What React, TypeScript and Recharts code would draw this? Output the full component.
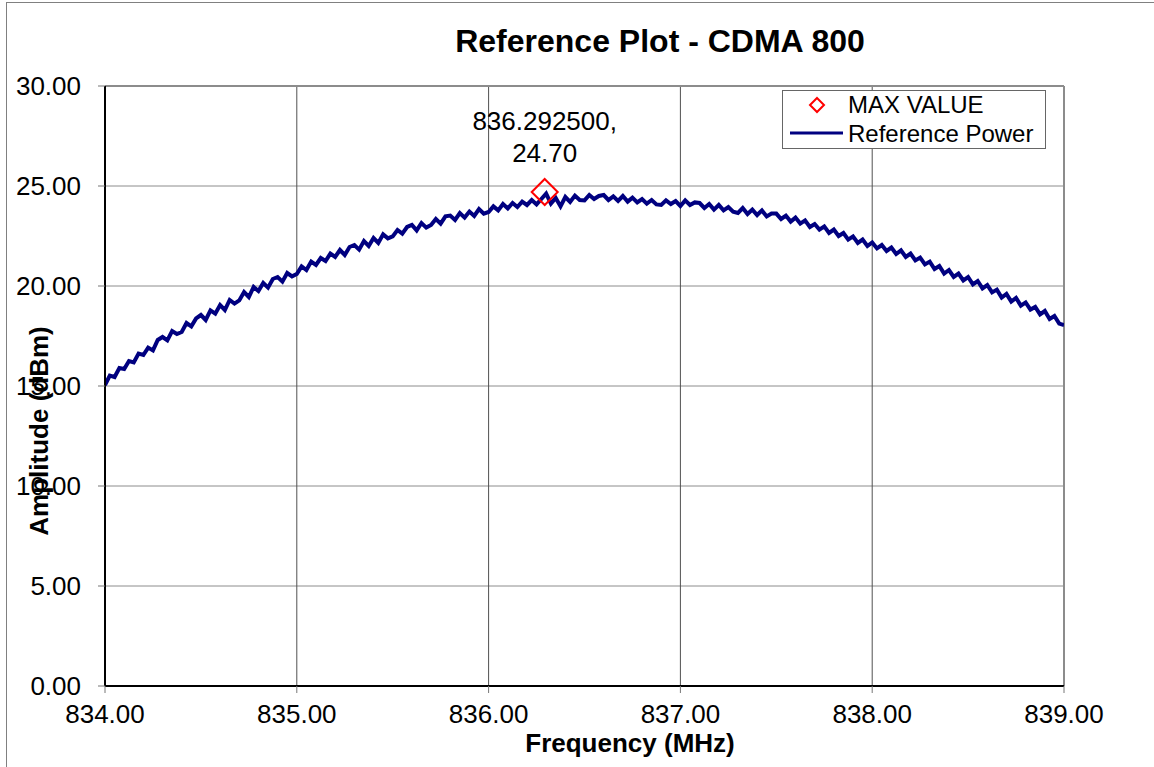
import {
  ComposedChart,
  Line,
  Scatter,
  XAxis,
  YAxis,
  CartesianGrid,
  ReferenceLine,
} from 'recharts'

// sweep: 834.000 MHz upward in 0.025 MHz steps
const START_FREQ = 834
const STEP = 0.025

// reference power (dBm)
const POWER = [
  15.05, 15.52, 15.45, 15.9,
  15.85, 16.25, 16.18, 16.62,
  16.55, 16.92, 16.78, 17.3,
  17.45, 17.28, 17.75, 17.6,
  17.7, 18.15, 17.98, 18.38,
  18.55, 18.3, 18.78, 18.62,
  19.05, 18.8, 19.3, 19.12,
  19.28, 19.7, 19.45, 19.95,
  19.75, 20.15, 19.92, 20.35,
  20.45, 20.22, 20.65, 20.48,
  20.6, 20.98, 20.8, 21.22,
  21.05, 21.4, 21.25, 21.62,
  21.45, 21.8, 21.55, 21.95,
  22.05, 21.82, 22.25, 22.0,
  22.4, 22.15, 22.58, 22.38,
  22.48, 22.8, 22.62, 22.95,
  23.05, 22.78, 23.15, 22.92,
  23.05, 23.35, 23.12, 23.48,
  23.52, 23.3, 23.65, 23.42,
  23.72, 23.5, 23.85, 23.62,
  23.7, 23.98, 23.78, 24.1,
  23.88, 24.15, 23.95, 24.22,
  24.05, 24.3, 24.08, 24.35,
  24.62, 24.12, 24.4, 23.98,
  24.45, 24.2, 24.52, 24.3,
  24.28, 24.55, 24.35, 24.5,
  24.55, 24.3, 24.48, 24.25,
  24.5, 24.22, 24.42, 24.18,
  24.35, 24.12, 24.3, 24.08,
  24.05, 24.28, 24.1, 24.25,
  24.0, 24.28, 24.05, 24.18,
  24.15, 23.9, 24.1, 23.82,
  24.05, 23.78, 23.95, 23.72,
  23.65, 23.9, 23.6, 23.82,
  23.55, 23.78, 23.48, 23.62,
  23.62, 23.35, 23.52, 23.22,
  23.42, 23.12, 23.28, 22.95,
  23.1, 22.82, 22.98, 22.65,
  22.82, 22.5, 22.65, 22.32,
  22.48, 22.15, 22.32, 22.0,
  22.18, 21.88, 22.05, 21.75,
  21.92, 21.6, 21.78, 21.45,
  21.62, 21.28, 21.42, 21.08,
  21.22, 20.85, 21.0, 20.62,
  20.8, 20.45, 20.62, 20.28,
  20.45, 20.08, 20.25, 19.88,
  20.05, 19.68, 19.82, 19.42,
  19.6, 19.22, 19.4, 19.02,
  19.18, 18.82, 18.95, 18.58,
  18.75, 18.35, 18.5, 18.12,
  18.05,
]

const MAX_FREQ = 836.2925
const MAX_POWER = 24.7

const X_TICKS = [834, 835, 836, 837, 838, 839]
const Y_TICKS = [0, 5, 10, 15, 20, 25, 30]

const FONT = 'Arial, "Liberation Sans", sans-serif'

const trace = POWER.map((p, i) => ({ f: START_FREQ + i * STEP, p }))
const maxPoint = [{ f: MAX_FREQ, p: MAX_POWER }]

function MaxMarker(props: any) {
  const { cx, cy } = props
  if (cx == null || cy == null) return null
  const r = 13
  return (
    <g>
      <polygon
        points={`${cx},${cy - r} ${cx + r},${cy} ${cx},${cy + r} ${cx - r},${cy}`}
        fill="none"
        stroke="#ff0000"
        strokeWidth={2}
      />
      <text x={cx} y={cy - 62} textAnchor="middle" fontSize={26} fontFamily={FONT} fill="#000">
        {MAX_FREQ.toFixed(6)},
      </text>
      <text x={cx} y={cy - 30} textAnchor="middle" fontSize={26} fontFamily={FONT} fill="#000">
        {MAX_POWER.toFixed(2)}
      </text>
    </g>
  )
}

export default function App() {
  const tick = { fill: '#000', fontSize: 26, fontFamily: FONT }
  return (
    <div style={{ position: 'absolute', left: 0, top: 0, width: 1154, height: 767, background: '#fff' }}>
      <div
        style={{
          position: 'absolute',
          left: 6,
          top: 2,
          right: 0,
          bottom: 0,
          borderLeft: '1px solid #808080',
          borderTop: '1px solid #808080',
        }}
      />
      <ComposedChart
        width={1154}
        height={767}
        data={trace}
        margin={{ top: 86, right: 90, bottom: 0, left: 25 }}
        style={{ position: 'absolute', left: 0, top: 0 }}
      >
        <CartesianGrid horizontal vertical={false} stroke="#8c8c8c" />
        <CartesianGrid horizontal={false} vertical stroke="#505050" />
        <ReferenceLine y={30} stroke="#8c8c8c" strokeWidth={2} />
        <ReferenceLine x={839} stroke="#8c8c8c" strokeWidth={2} />
        <XAxis
          type="number"
          dataKey="f"
          domain={[834, 839]}
          ticks={X_TICKS}
          tickFormatter={(v: number) => v.toFixed(2)}
          tick={tick}
          tickSize={7}
          tickMargin={12}
          height={81}
          axisLine={{ stroke: '#000', strokeWidth: 2 }}
          tickLine={{ stroke: '#777' }}
          allowDataOverflow
        />
        <YAxis
          type="number"
          domain={[0, 30]}
          ticks={Y_TICKS}
          tickFormatter={(v: number) => v.toFixed(2)}
          tick={tick}
          tickSize={7}
          tickMargin={17}
          width={80}
          axisLine={{ stroke: '#000', strokeWidth: 2 }}
          tickLine={{ stroke: '#777' }}
          allowDataOverflow
        />
        <Line
          dataKey="p"
          stroke="#000080"
          strokeWidth={4}
          dot={false}
          type="linear"
          isAnimationActive={false}
        />
        <Scatter data={maxPoint} dataKey="p" shape={<MaxMarker />} isAnimationActive={false} />
      </ComposedChart>

      <svg
        width={1154}
        height={767}
        style={{ position: 'absolute', left: 0, top: 0, pointerEvents: 'none' }}
      >
        <text x={660} y={52} textAnchor="middle" fontSize={32} fontWeight="bold" fontFamily={FONT}>
          Reference Plot - CDMA 800
        </text>
        <text x={630} y={752} textAnchor="middle" fontSize={26} fontWeight="bold" fontFamily={FONT}>
          Frequency (MHz)
        </text>
        <text
          transform="translate(48,431) rotate(-90)"
          textAnchor="middle"
          fontSize={26}
          fontWeight="bold"
          fontFamily={FONT}
        >
          Amplitude (dBm)
        </text>

        {/* legend */}
        <rect x={782.5} y={90.5} width={263} height={58} fill="#fff" stroke="#666" strokeWidth={1} />
        <polygon points="817,98 824,105 817,112 810,105" fill="none" stroke="#ff0000" strokeWidth={2} />
        <text x={848} y={113} fontSize={24} fontFamily={FONT}>
          MAX VALUE
        </text>
        <line x1={790} y1={133} x2={843} y2={133} stroke="#000080" strokeWidth={3} />
        <text x={848} y={142} fontSize={24} fontFamily={FONT}>
          Reference Power
        </text>
      </svg>
    </div>
  )
}
